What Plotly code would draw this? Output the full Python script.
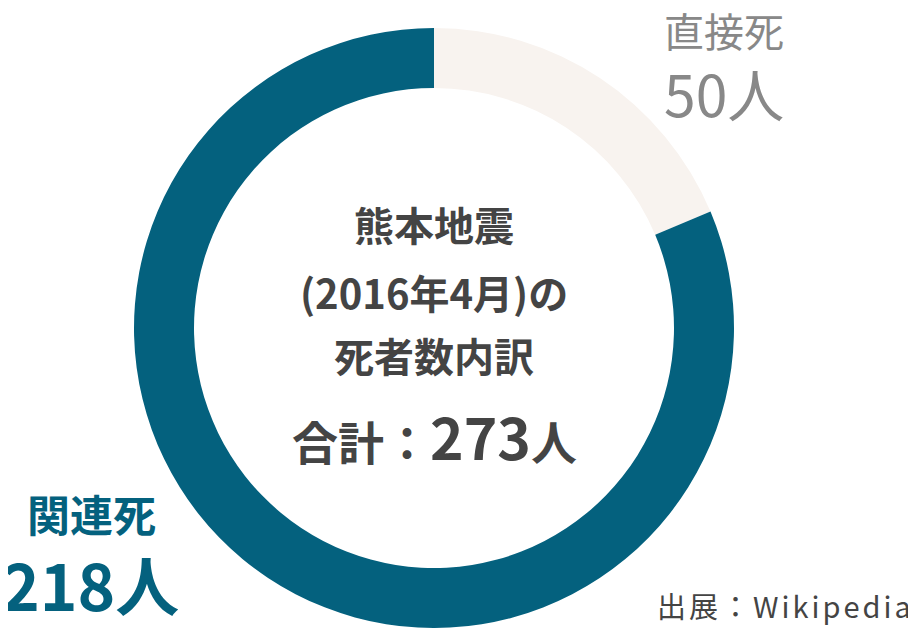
import plotly.graph_objects as go

# the page body has an 8px margin, so the figure is drawn 8px smaller
# and every reference pixel position is shifted by -8
OFF = 8
W, H = 916 - OFF, 628 - OFF

# data
labels = ["直接死", "関連死"]
values = [50, 218]
colors = ["#f8f3ef", "#04617e"]
total = 273

title_lines = ["熊本地震", "(2016年4月)の", "死者数内訳"]
source = "出展：Wikipedia"

FONT = "Noto Sans CJK JP"

fig = go.Figure()

fig.add_trace(go.Pie(
    labels=labels,
    values=values,
    hole=0.8,
    sort=False,
    direction="clockwise",
    rotation=0,
    marker=dict(colors=colors, line=dict(width=0)),
    textinfo="none",
    hoverinfo="label+value",
    showlegend=False,
    domain=dict(x=[(134 - OFF) / W, (734 - OFF) / W], y=[0, 600 / H]),
))


def px(x, y):
    # reference pixel -> paper coords
    return (x - OFF) / W, 1 - (y - OFF) / H


anns = []

# center title
for line, ypx in zip(title_lines, [224, 292, 355]):
    x, y = px(434, ypx)
    anns.append(dict(x=x, y=y, text=line, font=dict(size=40, color="#444444", weight=700)))

x, y = px(434, 435)
anns.append(dict(
    x=x, y=y,
    text="合計：<span style='font-size:57px'>%d</span>人" % total,
    font=dict(size=46, color="#444444", weight=700),
))

# slice labels
x, y = px(724, 30)
anns.append(dict(x=x, y=y, text=labels[0], font=dict(size=40, color="#888888", weight=400)))
x, y = px(724, 92)
anns.append(dict(x=x, y=y, text="%d人" % values[0], font=dict(size=57, color="#888888", weight=400)))

x, y = px(91, 513)
anns.append(dict(x=x, y=y, text=labels[1], font=dict(size=43, color="#04617e", weight=700)))
x, y = px(90, 583)
anns.append(dict(x=x, y=y, text="%d人" % values[1], font=dict(size=64, color="#04617e", weight=700)))

# source
x, y = px(916, 605)
anns.append(dict(x=x, y=y, text="<span style='letter-spacing:3px'>%s</span>" % source,
                 xanchor="right",
                 font=dict(size=29, color="#444444", weight=400)))

for a in anns:
    a.setdefault("xanchor", "center")
    a["yanchor"] = "middle"
    a["xref"] = "paper"
    a["yref"] = "paper"
    a["showarrow"] = False

fig.update_layout(
    width=W,
    height=H,
    margin=dict(l=0, r=0, t=0, b=0),
    paper_bgcolor="white",
    plot_bgcolor="white",
    font=dict(family=FONT),
    annotations=anns,
)

fig.write_html("out.html")
